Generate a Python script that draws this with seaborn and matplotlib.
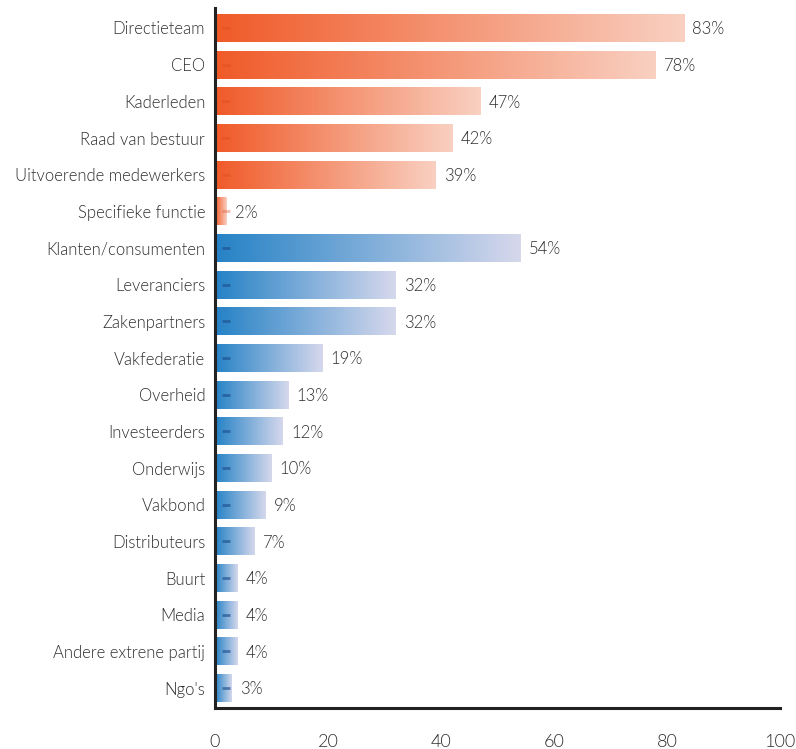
import numpy as np
import pandas as pd
import matplotlib
matplotlib.use("Agg")
import matplotlib.pyplot as plt
import matplotlib.colors as mcolors
import seaborn as sns

# Stakeholders: internal (orange) and external (blue)
internal = ["Directieteam", "CEO", "Kaderleden", "Raad van bestuur",
            "Uitvoerende medewerkers", "Specifieke functie"]
internal_pct = [83, 78, 47, 42, 39, 2]
external = ["Klanten/consumenten", "Leveranciers", "Zakenpartners", "Vakfederatie",
            "Overheid", "Investeerders", "Onderwijs", "Vakbond", "Distributeurs",
            "Buurt", "Media", "Andere extrene partij", "Ngo's"]
external_pct = [54, 32, 32, 19, 13, 12, 10, 9, 7, 4, 4, 4, 3]
x_ticks = [0, 20, 40, 60, 80, 100]

df = pd.DataFrame({
    "categorie": internal + external,
    "pct": internal_pct + external_pct,
    "groep": ["intern"] * len(internal) + ["extern"] * len(external),
})

grad_colors = {
    "intern": ("#F05A28", "#F9D0C1"),
    "extern": ("#2582C6", "#D6D8EC"),
}
dash_style = {"intern": ("#D9481C", 0.35), "extern": ("#1E4F8E", 0.65)}

sns.set_style("white")
plt.rcParams["font.family"] = ["Lato", "DejaVu Sans"]
FW = 300

fig = plt.figure(figsize=(7.96, 7.49), dpi=100)
ax = fig.add_axes([0.270, 0.0547, 0.710, 0.9346])

sns.barplot(data=df, x="pct", y="categorie", order=df["categorie"],
            color="white", width=0.76, ax=ax, orient="h")

text_col = "#2e2e2e"
for patch, (_, row) in zip(ax.patches, df.iterrows()):
    x0, y0 = patch.get_x(), patch.get_y()
    w, h = patch.get_width(), patch.get_height()
    c0, c1 = (np.array(mcolors.to_rgb(c)) for c in grad_colors[row["groep"]])
    t = np.linspace(0, 1, 256)[None, :, None]
    img = c0 + (c1 - c0) * t
    patch.set_facecolor("none")
    patch.set_edgecolor("none")
    ax.imshow(img, extent=[x0, x0 + w, y0 + h, y0], aspect="auto",
              interpolation="bicubic", zorder=2)
    yc = y0 + h / 2
    dcol, dalpha = dash_style[row["groep"]]
    ax.plot([1.2, 2.6], [yc, yc], color=dcol, lw=2.0, alpha=dalpha,
            solid_capstyle="butt", zorder=3)
    ax.annotate(f"{row['pct']}%", xy=(x0 + w, yc), xytext=(6, -1),
                textcoords="offset points", ha="left", va="center",
                fontsize=12, color=text_col, fontweight=FW, zorder=4)

ax.set_xlim(0, 100)
ax.set_ylim(len(df) - 0.455, -0.545)
ax.set_xticks(x_ticks)
ax.set_xticklabels([str(v) for v in x_ticks], fontweight=FW)
ax.set_yticks(range(len(df)))
ax.set_yticklabels(df["categorie"], fontweight=FW)
ax.set_xlabel("")
ax.set_ylabel("")

for side in ("top", "right"):
    ax.spines[side].set_visible(False)
for side in ("left", "bottom"):
    ax.spines[side].set_color("#222222")
    ax.spines[side].set_linewidth(2.2)
    ax.spines[side].set_zorder(5)

ax.tick_params(axis="x", direction="in", length=7, width=2.2, color="#222222",
               labelsize=13, labelcolor=text_col, pad=19)
ax.tick_params(axis="y", length=0, labelsize=12, labelcolor=text_col, pad=7)

fig.savefig("out.png", dpi=100)
